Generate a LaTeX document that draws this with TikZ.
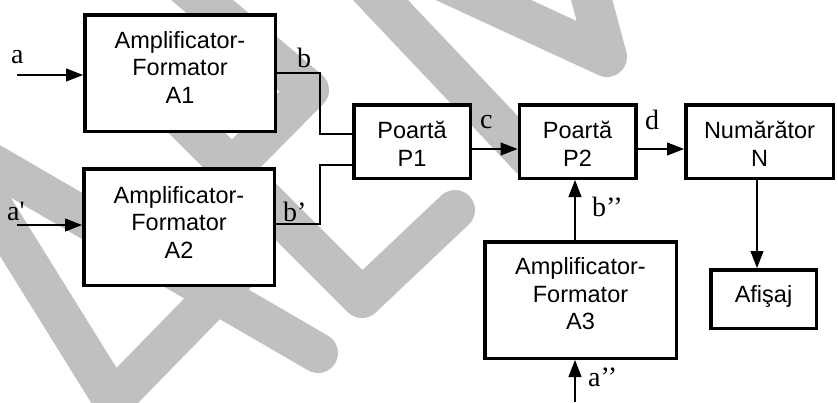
\documentclass[tikz,border=0pt]{standalone}
\usepackage{fontspec}
\setmainfont{Liberation Sans}
\newfontfamily\labfont{Liberation Serif}[Ligatures=TeXOff]
\usetikzlibrary{arrows.meta}
\definecolor{wm}{RGB}{192,192,192}
\begin{document}
\begin{tikzpicture}[x=1pt,y=-1pt,
  box/.style={draw, line width=3.5pt, fill=white, inner sep=0pt},
  txt/.style={inner sep=0pt, align=center, font=\fontsize{23.5}{27.5}\selectfont},
  lab/.style={inner sep=0pt, anchor=base west, font=\labfont\fontsize{28}{30}\selectfont},
  wire/.style={line width=1.2pt},
  arr/.style={wire, -{Triangle[length=17pt,width=13pt]}},
  wmk/.style={draw=wm, line width=40pt, line cap=round, line join=round}]
\useasboundingbox (0,0) rectangle (838,402);

% background watermark strokes
\begin{scope}
  \clip (0,0) rectangle (838,402);
  \draw[wmk] (170,-27) -- (309,90) -- (215,185);
  \draw[wmk] (170,106) -- (362,298) -- (455,210);
  \draw[wmk] (-40,145) -- (318,353);
  \draw[wmk] (-20,186) -- (113,400) -- (240,270);
  \draw[wmk] (352,-30) -- (530,158);
  \draw[wmk] (440,-20) -- (607,57) -- (585,-25);
\end{scope}

% blocks
\node[box, minimum width=190.5pt, minimum height=116.5pt] (A1) at (180,73) {};
\node[txt] (A1t) at (180,67) {Amplificator-\\Formator\\A1};
\node[box, minimum width=190.5pt, minimum height=116.5pt] (A2) at (179,227) {};
\node[txt] (A2t) at (179,222) {Amplificator-\\Formator\\A2};
\node[box, minimum width=116.5pt, minimum height=73.5pt] (P1) at (412,141.5) {};
\node[txt] (P1t) at (412,144) {Poartă\\P1};
\node[box, minimum width=116.5pt, minimum height=73.5pt] (P2) at (577.5,141.5) {};
\node[txt] (P2t) at (577.5,144) {Poartă\\P2};
\node[box, minimum width=147.5pt, minimum height=73.5pt] (N) at (759.5,141.5) {};
\node[txt] (Nt) at (759.5,144) {Numărător\\N};
\node[box, minimum width=191.5pt, minimum height=116.5pt] (A3) at (580.5,300) {};
\node[txt] (A3t) at (580.5,294) {Amplificator-\\Formator\\A3};
\node[box, minimum width=105.5pt, minimum height=58.5pt] (Af) at (763.5,299) {};
\node[txt] (Aft) at (763.5,296.3) {Afişaj};

% helper coordinates
\coordinate (ina) at (17,75);
\coordinate (ina2) at (17,225);
\coordinate (ina3) at (575,402);
\coordinate (jb) at (320,0);
\coordinate (yu) at (0,134);
\coordinate (yl) at (0,165);
\coordinate (yb2) at (0,224);
\coordinate (yc) at (0,149);
\coordinate (xb) at (575,0);
\coordinate (xn) at (757,0);

% connectors
\draw[arr] (ina) -- (ina -| A1.west);
\draw[arr] (ina2) -- (ina2 -| A2.west);
\draw[wire] (A1.east) -- (A1.east -| jb) -- (jb |- yu) -- (P1.west |- yu);
\draw[wire] (A2.east |- yb2) -- (jb |- yb2) -- (jb |- yl) -- (P1.west |- yl);
\draw[arr] (P1.east |- yc) -- (P2.west |- yc);
\draw[arr] (P2.east |- yc) -- (N.west |- yc);
\draw[arr] (A3.north -| xb) -- (P2.south -| xb);
\draw[arr] (ina3) -- (ina3 |- A3.south);
\draw[arr] (N.south -| xn) -- (Af.north -| xn);

% signal labels
\node[lab] (la) at (11,63) {a};
\node[lab] (la2) at (7,220) {a'};
\node[lab] (lb) at (297,67) {b};
\node[lab] (lb2) at (283,221) {b’};
\node[lab] (lc) at (480,128) {c};
\node[lab] (ld) at (645,129) {d};
\node[lab] (lb3) at (592,216) {b’’};
\node[lab] (la3) at (588,386) {a’’};
\end{tikzpicture}
\end{document}
